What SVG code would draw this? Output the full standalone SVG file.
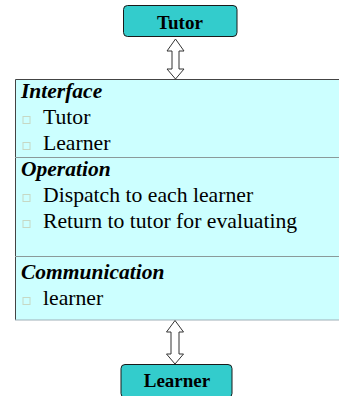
<svg xmlns="http://www.w3.org/2000/svg" width="339" height="396" viewBox="0 0 339 396" font-family="'Liberation Serif', 'DejaVu Serif', serif">
  <style>
    .actor { fill: #33CCCC; stroke: #1a1a1a; stroke-width: 1; }
    .actor-label { font-family: 'Liberation Serif', 'DejaVu Serif', serif; font-weight: bold; font-size: 19px; fill: #000; text-anchor: middle; }
    .panel { fill: #CCFFFF; }
    .frame { stroke: #444; stroke-width: 1; fill: none; }
    .divider { stroke: #8a9a9a; stroke-width: 1.2; }
    .heading { font-family: 'Liberation Serif', 'DejaVu Serif', serif; font-weight: bold; font-style: italic; font-size: 21.5px; fill: #000; }
    .item { font-family: 'Liberation Serif', 'DejaVu Serif', serif; font-size: 21.7px; fill: #000; }
    .bullet { fill: none; stroke: #c6d8c4; stroke-width: 1; }
    .link { fill: #fff; stroke: #333; stroke-width: 1; stroke-linejoin: miter; }
  </style>

  <!-- component panel -->
  <g id="component">
    <rect class="panel" x="15" y="79" width="330" height="241"/>
    <path class="frame" d="M345 79.5 H15.5 V320"/>
    <line class="divider" x1="15" y1="157.5" x2="339" y2="157.5"/>
    <line class="divider" x1="15" y1="256.5" x2="339" y2="256.5"/>
    <line x1="15" y1="320" x2="339" y2="320" stroke="#9fb0b8" stroke-width="1"/>

    <g id="interface">
      <text class="heading" x="21" y="98">Interface</text>
      <rect class="bullet" x="23" y="116.5" width="7" height="7"/>
      <text class="item" x="43" y="124">Tutor</text>
      <rect class="bullet" x="23" y="142.5" width="7" height="7"/>
      <text class="item" x="43" y="150">Learner</text>
    </g>

    <g id="operation">
      <text class="heading" x="21" y="176">Operation</text>
      <rect class="bullet" x="23" y="194.5" width="7" height="7"/>
      <text class="item" x="43" y="202">Dispatch to each learner</text>
      <rect class="bullet" x="23" y="220.5" width="7" height="7"/>
      <text class="item" x="43" y="228">Return to tutor for evaluating</text>
    </g>

    <g id="communication">
      <text class="heading" x="21" y="279">Communication</text>
      <rect class="bullet" x="23" y="297.5" width="7" height="7"/>
      <text class="item" x="43" y="305">learner</text>
    </g>
  </g>

  <!-- actors -->
  <g id="tutor">
    <rect class="actor" x="123.5" y="5.5" width="113.5" height="31" rx="4"/>
    <text class="actor-label" x="180" y="29">Tutor</text>
  </g>
  <g id="learner">
    <rect class="actor" x="121" y="364.5" width="111" height="33" rx="4"/>
    <text class="actor-label" x="177" y="387">Learner</text>
  </g>

  <!-- two-way hollow arrows -->
  <g id="connectors">
    <path class="link" d="M175.5 39 L184 51 L179 51 L179 69 L184 69 L175.5 79 L167 69 L172 69 L172 51 L167 51 Z"/>
    <path class="link" d="M175 320.5 L183.5 332 L179 332 L179 354 L183.5 354 L175 364 L166.5 354 L171 354 L171 332 L166.5 332 Z"/>
  </g>
</svg>
